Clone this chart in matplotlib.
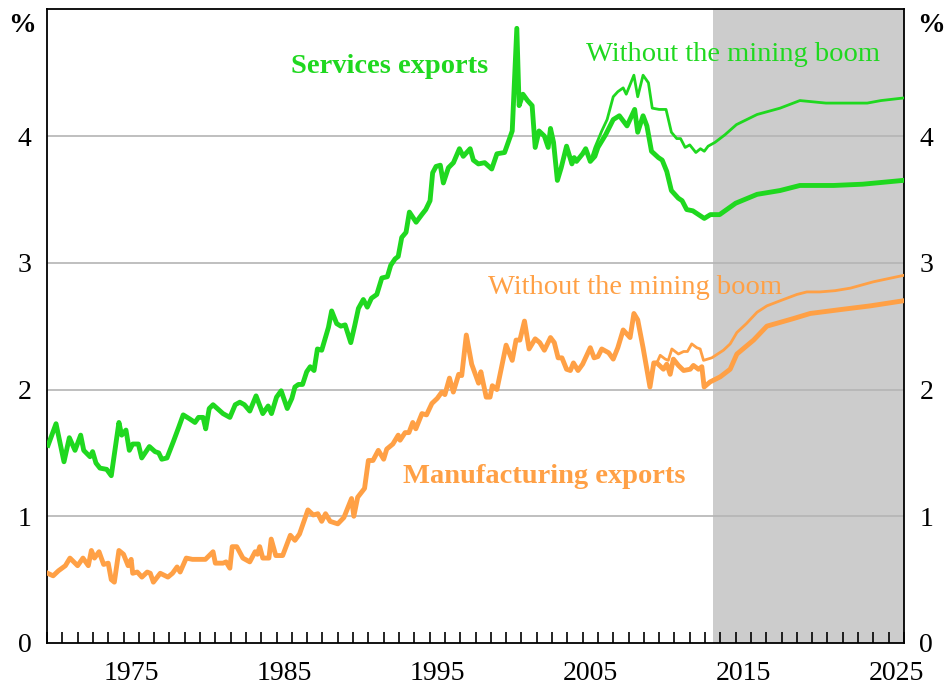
import numpy as np
import matplotlib.pyplot as plt
from matplotlib.ticker import FixedLocator, NullFormatter

# services exports, share of GDP (%)
svc_year = [1970.07, 1970.59, 1971.11, 1971.46, 1971.83, 1972.2, 1972.4, 1972.81, 1972.98, 1973.2,
            1973.46, 1973.9, 1974.2, 1974.7, 1974.88, 1975.16, 1975.38, 1975.6, 1975.97, 1976.19,
            1976.69, 1977.06, 1977.3, 1977.5, 1977.84, 1978.26, 1978.6, 1978.9, 1979.3, 1979.67,
            1979.9, 1980.2, 1980.37, 1980.6, 1980.85, 1981.5, 1981.95, 1982.3, 1982.6, 1982.9,
            1983.25, 1983.66, 1984.1, 1984.45, 1984.67, 1985.0, 1985.3, 1985.7, 1986.0, 1986.2,
            1986.43, 1986.7, 1986.97, 1987.2, 1987.45, 1987.67, 1987.95, 1988.39, 1988.6, 1988.93,
            1989.2, 1989.48, 1989.85, 1990.1, 1990.35, 1990.67, 1990.93, 1991.2, 1991.55, 1991.88,
            1992.24, 1992.46, 1992.74, 1992.95, 1993.18, 1993.46, 1993.68, 1994.12, 1994.49, 1994.75,
            1995.03, 1995.2, 1995.42, 1995.7, 1995.9, 1996.23, 1996.56, 1996.95, 1997.2, 1997.65,
            1997.86, 1998.19, 1998.6, 1999.06, 1999.4, 1999.9, 2000.4, 2000.7, 2000.85, 2001.1,
            2001.4, 2001.7, 2001.9, 2002.15, 2002.5, 2002.75, 2002.9, 2003.1, 2003.35, 2003.6,
            2003.95, 2004.3, 2004.45, 2004.6, 2005.0, 2005.2, 2005.5, 2005.8, 2006.0, 2006.5,
            2007.0, 2007.4, 2007.9, 2008.4, 2008.6, 2008.95, 2009.2, 2009.5, 2009.95, 2010.2,
            2010.5, 2010.8, 2011.25, 2011.5, 2011.8, 2012.2, 2012.7, 2012.95, 2013.35, 2013.95,
            2015.0, 2016.4, 2017.9, 2019.2, 2021.4, 2023.3, 2024.2, 2025.95]
svc_val = [1.56, 1.73, 1.43, 1.62, 1.52, 1.64, 1.52, 1.47, 1.51, 1.42,
           1.38, 1.37, 1.32, 1.74, 1.64, 1.68, 1.52, 1.57, 1.57, 1.46,
           1.55, 1.51, 1.50, 1.45, 1.46, 1.59, 1.70, 1.80, 1.77, 1.74,
           1.78, 1.78, 1.69, 1.85, 1.88, 1.81, 1.78, 1.88, 1.90, 1.88,
           1.83, 1.95, 1.81, 1.87, 1.81, 1.94, 1.99, 1.85, 1.93, 2.02,
           2.04, 2.04, 2.14, 2.18, 2.15, 2.32, 2.31, 2.49, 2.62, 2.52,
           2.50, 2.51, 2.37, 2.50, 2.64, 2.71, 2.65, 2.72, 2.75, 2.88,
           2.89, 2.98, 3.03, 3.05, 3.20, 3.24, 3.40, 3.32, 3.38, 3.42,
           3.49, 3.71, 3.76, 3.77, 3.63, 3.75, 3.79, 3.90, 3.84, 3.90,
           3.81, 3.78, 3.79, 3.74, 3.86, 3.87, 4.04, 4.85, 4.24, 4.33,
           4.28, 4.24, 3.91, 4.04, 4.00, 3.91, 4.06, 3.95, 3.65, 3.75,
           3.92, 3.78, 3.83, 3.80, 3.86, 3.90, 3.80, 3.84, 3.91, 4.01,
           4.13, 4.16, 4.08, 4.21, 4.03, 4.16, 4.08, 3.88, 3.83, 3.81,
           3.72, 3.57, 3.51, 3.49, 3.42, 3.41, 3.37, 3.35, 3.38, 3.38,
           3.47, 3.54, 3.57, 3.61, 3.61, 3.62, 3.63, 3.65]

# services exports without the mining boom
svc_nm_year = [2005.5, 2005.8, 2006.25, 2006.6, 2007.0, 2007.3, 2007.65, 2007.85, 2008.35, 2008.6,
               2008.95, 2009.3, 2009.55, 2010.0, 2010.45, 2010.8, 2011.15, 2011.4, 2011.7, 2012.0,
               2012.4, 2012.7, 2012.95, 2013.2, 2013.65, 2014.3, 2015.05, 2016.4, 2017.9, 2019.2,
               2020.9, 2023.6, 2024.5, 2025.95]
svc_nm_val = [3.80, 3.91, 4.04, 4.13, 4.31, 4.35, 4.38, 4.33, 4.48, 4.31,
              4.48, 4.42, 4.22, 4.21, 4.21, 4.03, 3.98, 3.98, 3.91, 3.93,
              3.87, 3.90, 3.88, 3.92, 3.95, 4.01, 4.09, 4.17, 4.22, 4.28,
              4.26, 4.26, 4.28, 4.30]

# manufacturing exports
mfg_year = [1970.05, 1970.4, 1970.75, 1971.2, 1971.5, 1972.0, 1972.35, 1972.7, 1972.9, 1973.1,
            1973.4, 1973.7, 1974.0, 1974.2, 1974.4, 1974.7, 1975.0, 1975.3, 1975.5, 1975.6,
            1975.9, 1976.2, 1976.55, 1976.75, 1976.95, 1977.4, 1977.9, 1978.2, 1978.5, 1978.7,
            1979.1, 1979.5, 1979.9, 1980.35, 1980.85, 1981.0, 1981.5, 1981.7, 1981.95, 1982.1,
            1982.4, 1982.8, 1983.25, 1983.6, 1983.75, 1983.9, 1984.1, 1984.5, 1984.65, 1984.95,
            1985.4, 1985.9, 1986.2, 1986.5, 1987.05, 1987.4, 1987.7, 1987.95, 1988.2, 1988.5,
            1989.0, 1989.4, 1989.9, 1990.05, 1990.3, 1990.75, 1991.0, 1991.3, 1991.65, 1992.0,
            1992.2, 1992.6, 1992.95, 1993.07, 1993.4, 1993.65, 1993.9, 1994.1, 1994.5, 1994.8,
            1995.15, 1995.5, 1995.8, 1996.0, 1996.3, 1996.55, 1996.9, 1997.1, 1997.4, 1997.75,
            1998.2, 1998.35, 1998.7, 1998.95, 1999.1, 1999.4, 2000.0, 2000.4, 2000.65, 2000.9,
            2001.2, 2001.5, 2001.9, 2002.2, 2002.5, 2002.9, 2003.15, 2003.4, 2003.65, 2003.95,
            2004.2, 2004.4, 2004.7, 2005.0, 2005.5, 2005.75, 2006.0, 2006.25, 2006.7, 2007.0,
            2007.3, 2007.65, 2008.1, 2008.35, 2008.6, 2008.95, 2009.4, 2009.65, 2009.85, 2010.28,
            2010.5, 2010.72, 2010.93, 2011.26, 2011.6, 2012.03, 2012.24, 2012.57, 2012.79, 2012.94,
            2013.33, 2013.99, 2014.64, 2015.08, 2016.17, 2017.04, 2017.9, 2018.78, 2019.87, 2020.5,
            2021.8, 2023.8, 2025.95]
mfg_val = [0.55, 0.53, 0.57, 0.61, 0.67, 0.61, 0.67, 0.61, 0.73, 0.67,
           0.72, 0.62, 0.63, 0.50, 0.48, 0.73, 0.70, 0.61, 0.66, 0.55,
           0.56, 0.52, 0.56, 0.55, 0.48, 0.55, 0.52, 0.55, 0.60, 0.56,
           0.67, 0.66, 0.66, 0.66, 0.72, 0.63, 0.63, 0.64, 0.59, 0.76,
           0.76, 0.67, 0.64, 0.72, 0.70, 0.76, 0.67, 0.67, 0.82, 0.69,
           0.69, 0.85, 0.81, 0.86, 1.05, 1.01, 1.02, 0.96, 1.02, 0.96,
           0.94, 0.99, 1.14, 1.00, 1.15, 1.22, 1.44, 1.44, 1.52, 1.45,
           1.53, 1.57, 1.64, 1.60, 1.66, 1.66, 1.74, 1.69, 1.81, 1.80,
           1.89, 1.93, 1.98, 1.96, 2.09, 1.98, 2.12, 2.11, 2.43, 2.20,
           2.05, 2.14, 1.94, 1.94, 2.03, 2.00, 2.35, 2.23, 2.39, 2.39,
           2.54, 2.32, 2.40, 2.37, 2.31, 2.41, 2.37, 2.25, 2.25, 2.16,
           2.15, 2.21, 2.15, 2.20, 2.33, 2.25, 2.26, 2.32, 2.29, 2.24,
           2.33, 2.47, 2.41, 2.60, 2.55, 2.33, 2.02, 2.21, 2.21, 2.16,
           2.20, 2.12, 2.24, 2.19, 2.15, 2.16, 2.19, 2.16, 2.18, 2.02,
           2.06, 2.10, 2.16, 2.28, 2.39, 2.50, 2.53, 2.56, 2.60, 2.61,
           2.63, 2.66, 2.70]

# manufacturing exports without the mining boom
mfg_nm_year = [2009.85, 2010.07, 2010.4, 2010.6, 2010.83, 2011.26, 2011.6, 2011.85, 2012.13, 2012.46,
               2012.68, 2012.9, 2013.44, 2014.2, 2014.64, 2015.08, 2015.7, 2016.4, 2017.04, 2017.9,
               2019.0, 2019.65, 2020.5, 2021.5, 2022.5, 2024.0, 2025.95]
mfg_nm_val = [2.21, 2.27, 2.24, 2.23, 2.32, 2.28, 2.30, 2.30, 2.36, 2.33,
              2.32, 2.23, 2.25, 2.31, 2.36, 2.45, 2.52, 2.61, 2.66, 2.70,
              2.75, 2.77, 2.77, 2.78, 2.80, 2.85, 2.90]

green = '#1fd81f'
orange = '#ffa045'

plt.rcParams['font.family'] = ['Liberation Serif', 'DejaVu Serif']

fig = plt.figure(figsize=(9.46, 6.88), dpi=100)
ax = fig.add_axes([47/946, 1-643/688, (904-47)/946, (643-9.3)/688])

# forecast period shading
ax.axvspan(2013.5, 2026, color='#cccccc', lw=0, zorder=0)
for yv in [1, 2, 3, 4]:
    ax.axhline(yv, color='#b4b4b4', lw=1.2, zorder=1)

ax.plot(svc_year, svc_val, color=green, lw=3.5, zorder=3)
ax.plot(svc_nm_year, svc_nm_val, color=green, lw=2.0, zorder=3)
ax.plot(mfg_year, mfg_val, color=orange, lw=3.5, zorder=3)
ax.plot(mfg_nm_year, mfg_nm_val, color=orange, lw=2.0, zorder=3)

ax.set_xlim(1970, 2026)
ax.set_ylim(0, 5)

# year ticks, labels centred within the year
ax.xaxis.set_major_locator(FixedLocator(np.arange(1970, 2027)))
ax.xaxis.set_major_formatter(NullFormatter())
ax.tick_params(axis='x', which='major', direction='in', length=8, width=1.2)
lab_years = [1975, 1985, 1995, 2005, 2015, 2025]
ax.set_xticks([y + 0.5 for y in lab_years], minor=True)
ax.set_xticklabels([str(y) for y in lab_years], minor=True, fontsize=20)
ax.tick_params(axis='x', which='minor', length=0, pad=13)

ax.set_yticks([0, 1, 2, 3, 4])
ax.set_yticklabels(['0', '1', '2', '3', '4'], fontsize=20)
ax.tick_params(axis='y', length=0, pad=11, labelleft=True, labelright=True)

for sp in ax.spines.values():
    sp.set_linewidth(1.3)

# % units top
ax.text(-0.013, 0.975, '%', transform=ax.transAxes, ha='right', va='center',
        fontsize=20, fontweight='bold')
ax.text(1.015, 0.975, '%', transform=ax.transAxes, ha='left', va='center',
        fontsize=20, fontweight='bold')

ax.text(1992.4, 4.50, 'Services exports', color=green, fontsize=20.5,
        fontweight='bold', ha='center', va='baseline')
ax.text(2014.85, 4.59, 'Without the mining boom', color=green, fontsize=20.5,
        ha='center', va='baseline')
ax.text(2008.4, 2.75, 'Without the mining boom', color=orange, fontsize=20.5,
        ha='center', va='baseline')
ax.text(2002.5, 1.26, 'Manufacturing exports', color=orange, fontsize=20.5,
        fontweight='bold', ha='center', va='baseline')

plt.savefig('out.png', dpi=100)
